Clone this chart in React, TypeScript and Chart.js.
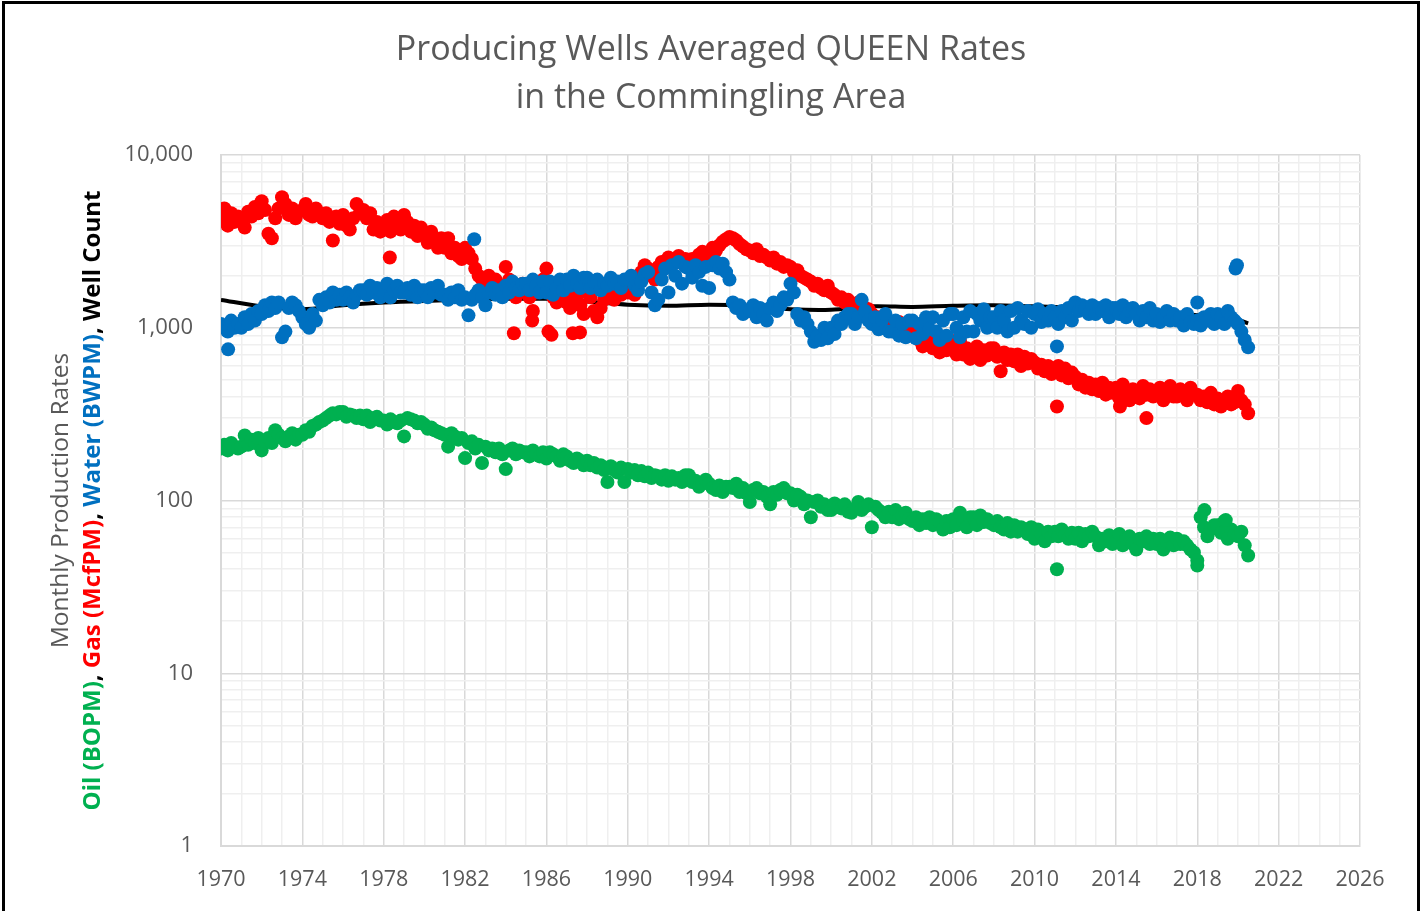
import React, { useEffect, useRef } from "react";
import { Chart, registerables } from "chart.js";

Chart.register(...registerables);

// ---------------- DATA ----------------
const TITLE_LINES = ["Producing Wells Averaged QUEEN Rates", "in the Commingling Area"];
const Y_TITLE_LINE1 = "Monthly Production Rates";
const Y_TITLE_SEGMENTS: [string, string][] = [
  ["Oil (BOPM)", "#00B050"],
  [", ", "#000000"],
  ["Gas (McfPM)", "#FF0000"],
  [", ", "#000000"],
  ["Water (BWPM)", "#0070C0"],
  [", ", "#000000"],
  ["Well Count", "#000000"],
];

// bi-monthly samples starting 1970.00, six per year
const START_YEAR = 1970;
const STEP_YEARS = 1 / 6;

const oilBOPM = [
  200, 210, 195, 215, 205, 200, // 1970
  205, 238, 210, 225, 215, 230, // 1971
  195, 220, 230, 215, 255, 240, // 1972
  230, 220, 235, 245, 225, 240, // 1973
  240, 255, 250, 270, 275, 285, // 1974
  290, 300, 310, 320, 315, 325, // 1975
  325, 305, 315, 310, 300, 310, // 1976
  295, 310, 285, 300, 305, 290, // 1977
  290, 275, 295, 285, 280, 290, // 1978
  235, 300, 295, 290, 280, 285, // 1979
  275, 260, 265, 255, 250, 245, // 1980
  240, 205, 245, 235, 225, 230, // 1981
  176, 215, 220, 200, 210, 165, // 1982
  205, 195, 200, 190, 200, 185, // 1983
  152, 195, 200, 185, 195, 190, // 1984
  190, 180, 195, 185, 180, 190, // 1985
  175, 190, 185, 180, 170, 185, // 1986
  180, 170, 165, 175, 170, 160, // 1987
  170, 160, 165, 155, 160, 150, // 1988
  128, 158, 150, 145, 155, 128, // 1989
  152, 145, 150, 140, 148, 138, // 1990
  145, 135, 140, 138, 132, 140, // 1991
  130, 138, 132, 135, 128, 140, // 1992
  140, 128, 130, 120, 125, 132, // 1993
  125, 118, 115, 122, 112, 120, // 1994
  120, 118, 125, 112, 118, 110, // 1995
  98, 115, 118, 110, 112, 105, // 1996
  95, 112, 108, 115, 118, 110, // 1997
  110, 100, 108, 105, 95, 100, // 1998
  80, 98, 100, 92, 95, 88, // 1999
  88, 96, 92, 90, 95, 86, // 2000
  85, 90, 98, 88, 92, 95, // 2001
  70, 92, 88, 85, 80, 86, // 2002
  80, 88, 78, 82, 85, 78, // 2003
  76, 80, 72, 78, 74, 80, // 2004
  72, 78, 75, 68, 76, 70, // 2005
  78, 72, 85, 76, 70, 80, // 2006
  80, 72, 82, 75, 78, 74, // 2007
  72, 76, 70, 68, 74, 66, // 2008
  72, 66, 70, 68, 64, 70, // 2009
  60, 68, 64, 58, 66, 62, // 2010
  66, 62, 68, 63, 60, 65, // 2011
  60, 65, 58, 64, 62, 66, // 2012
  62, 55, 60, 58, 63, 56, // 2013
  58, 64, 55, 60, 62, 56, // 2014
  52, 60, 58, 62, 56, 60, // 2015
  56, 60, 52, 58, 61, 55, // 2016
  60, 56, 58, 55, 52, 50, // 2017
  45, 80, 70, 62, 68, 72, // 2018
  72, 65, 76, 60, 68, 64, // 2019
  62, 66, 55, 48, // 2020
];

const gasMcfPM = [
  4300, 4900, 3900, 4600, 4100, 4400, // 1970
  4200, 3800, 4700, 4400, 5000, 4600, // 1971
  5400, 4800, 3500, 3300, 4300, 4900, // 1972
  5700, 5200, 4500, 4900, 4300, 4700, // 1973
  4800, 5200, 4500, 4400, 4900, 4600, // 1974
  4300, 4600, 4100, 3200, 4400, 4000, // 1975
  4500, 3900, 3700, 4300, 5200, 4600, // 1976
  4800, 4300, 4600, 3700, 4100, 3600, // 1977
  3800, 4200, 3600, 4400, 4000, 3700, // 1978
  4500, 4100, 3600, 3900, 3400, 3800, // 1979
  3500, 3100, 3600, 3200, 2900, 3300, // 1980
  2900, 3300, 2700, 2900, 2600, 2500, // 1981
  2900, 2700, 2500, 2200, 2000, 1900, // 1982
  1800, 2000, 1700, 1900, 1650, 1750, // 1983
  2250, 1900, 1700, 1500, 1600, 1800, // 1984
  1700, 1500, 1250, 1600, 1800, 1900, // 1985
  2200, 1800, 1500, 1400, 1700, 1500, // 1986
  1400, 1300, 1600, 1500, 1350, 1200, // 1987
  1600, 1500, 1250, 1150, 1300, 1450, // 1988
  1500, 1600, 1450, 1650, 1550, 1700, // 1989
  1600, 1700, 1550, 1800, 2100, 2300, // 1990
  2200, 2000, 1900, 2250, 2400, 2300, // 1991
  2550, 2300, 2450, 2600, 2400, 2500, // 1992
  2400, 2500, 2350, 2650, 2750, 2600, // 1993
  2700, 2900, 2800, 3000, 3150, 3250, // 1994
  3350, 3300, 3200, 3050, 2950, 2850, // 1995
  2800, 2700, 2850, 2600, 2650, 2550, // 1996
  2450, 2550, 2350, 2400, 2250, 2300, // 1997
  2250, 2100, 2150, 2000, 1950, 1900, // 1998
  1850, 1750, 1800, 1700, 1650, 1750, // 1999
  1600, 1550, 1450, 1500, 1400, 1450, // 2000
  1350, 1300, 1400, 1250, 1300, 1280, // 2001
  1200, 1100, 1150, 1050, 1100, 1000, // 2002
  1050, 980, 1080, 950, 1000, 920, // 2003
  900, 950, 850, 780, 880, 820, // 2004
  760, 860, 720, 800, 740, 850, // 2005
  780, 700, 840, 700, 760, 660, // 2006
  700, 780, 650, 740, 690, 760, // 2007
  760, 680, 560, 720, 650, 700, // 2008
  640, 700, 600, 680, 620, 660, // 2009
  630, 580, 610, 560, 600, 540, // 2010
  560, 600, 530, 580, 510, 550, // 2011
  520, 470, 500, 450, 480, 440, // 2012
  470, 430, 480, 410, 450, 420, // 2013
  450, 390, 470, 420, 380, 440, // 2014
  430, 390, 460, 410, 440, 400, // 2015
  410, 450, 380, 430, 460, 400, // 2016
  400, 440, 420, 380, 450, 410, // 2017
  410, 380, 400, 370, 420, 360, // 2018
  390, 350, 380, 400, 360, 370, // 2019
  430, 380, 360, 320, // 2020
];

const waterBWPM = [
  1050, 1000, 950, 1100, 1000, 1050, // 1970
  1000, 1150, 1050, 1200, 1100, 1250, // 1971
  1200, 1350, 1250, 1400, 1300, 1400, // 1972
  880, 950, 1300, 1400, 1350, 1250, // 1973
  1150, 1050, 1000, 1200, 1100, 1450, // 1974
  1350, 1500, 1400, 1600, 1450, 1550, // 1975
  1450, 1600, 1500, 1400, 1550, 1650, // 1976
  1650, 1550, 1750, 1600, 1700, 1500, // 1977
  1550, 1800, 1500, 1650, 1750, 1600, // 1978
  1600, 1700, 1550, 1750, 1500, 1650, // 1979
  1650, 1500, 1700, 1600, 1750, 1550, // 1980
  1550, 1450, 1600, 1500, 1650, 1450, // 1981
  1500, 1180, 1450, 1550, 1650, 1500, // 1982
  1350, 1600, 1700, 1550, 1650, 1500, // 1983
  1750, 1600, 1850, 1700, 1650, 1800, // 1984
  1800, 1650, 1900, 1750, 1600, 1850, // 1985
  1600, 1850, 1550, 1700, 1900, 1650, // 1986
  1900, 1750, 2000, 1800, 1700, 1950, // 1987
  1950, 1700, 1850, 1900, 1650, 1800, // 1988
  1750, 1950, 1800, 1850, 1700, 1900, // 1989
  1900, 2000, 1750, 1650, 1850, 2050, // 1990
  2100, 1600, 1350, 1450, 1900, 2200, // 1991
  1600, 2300, 2000, 2400, 1800, 2250, // 1992
  2200, 1950, 2300, 2100, 1750, 2250, // 1993
  1700, 2300, 2400, 2200, 2350, 2100, // 1994
  1900, 1400, 1300, 1350, 1200, 1250, // 1995
  1250, 1350, 1150, 1300, 1200, 1100, // 1996
  1300, 1400, 1250, 1350, 1500, 1450, // 1997
  1800, 1600, 1200, 1100, 1150, 1050, // 1998
  950, 830, 900, 850, 1000, 870, // 1999
  1000, 920, 1100, 1050, 1150, 1200, // 2000
  1200, 1050, 1150, 1450, 1250, 1100, // 2001
  1050, 1150, 980, 1100, 1200, 950, // 2002
  950, 1100, 900, 1050, 880, 1100, // 2003
  1100, 870, 1050, 920, 1150, 980, // 2004
  1150, 950, 850, 1100, 900, 1200, // 2005
  1200, 1000, 880, 1150, 950, 1250, // 2006
  950, 1200, 1100, 1280, 1000, 1150, // 2007
  1150, 1000, 1250, 1100, 950, 1250, // 2008
  1000, 1300, 1100, 1050, 1250, 1000, // 2009
  1200, 1280, 1080, 1200, 1100, 1250, // 2010
  1150, 1050, 1250, 1150, 1300, 1100, // 2011
  1400, 1250, 1350, 1300, 1200, 1350, // 2012
  1200, 1300, 1250, 1350, 1150, 1300, // 2013
  1300, 1200, 1350, 1150, 1250, 1300, // 2014
  1200, 1100, 1250, 1150, 1300, 1100, // 2015
  1200, 1080, 1150, 1250, 1100, 1200, // 2016
  1100, 1150, 1030, 1200, 1080, 1050, // 2017
  1100, 1030, 1150, 1100, 1200, 1050, // 2018
  1200, 1150, 1050, 1250, 1150, 1100, // 2019
  1050, 950, 850, 770, // 2020
];

// isolated points [year, value]
const oilOutliers: [number, number][] = [
  [2011.1, 40], [2018.0, 42], [2018.35, 88], [2019.4, 77],
];
const gasOutliers: [number, number][] = [
  [1978.3, 2550], [1984.4, 930], [1985.3, 1100], [1986.1, 950], [1986.25, 910],
  [1987.3, 930], [1987.65, 940], [2011.1, 350], [2014.2, 350], [2015.5, 300],
];
const waterOutliers: [number, number][] = [
  [1970.35, 750], [1982.45, 3250], [2011.1, 780], [2018.0, 1400], [2019.88, 2200], [2019.95, 2300],
];

const wellCountYears = [1970, 1972, 1974, 1976, 1978, 1980, 1982, 1984, 1986, 1988, 1990, 1992, 1994, 1996, 1998, 2000, 2002, 2004, 2006, 2008, 2010, 2012, 2014, 2016, 2018, 2019, 2020, 2020.5];
const wellCount = [1450, 1330, 1280, 1350, 1400, 1430, 1450, 1470, 1470, 1420, 1360, 1340, 1360, 1340, 1280, 1270, 1330, 1320, 1340, 1350, 1330, 1310, 1280, 1240, 1180, 1140, 1110, 1060];

const X_MIN = 1970;
const X_MAX = 2026;
const X_LABEL_EVERY = 4;
const Y_DECADES = [1, 10, 100, 1000, 10000];
const Y_MULTIPLIERS = [1, 2, 3, 4, 5, 6, 7, 8, 9];

// ---------------- STYLE ----------------
const GREEN = "#00B050";
const RED = "#FF0000";
const BLUE = "#0070C0";
const TEXT_GRAY = "#595959";
const GRID_MAJOR = "#D9D9D9";
const GRID_MINOR = "#EFEFEF";
const FONT = '"Open Sans", "DejaVu Sans", sans-serif';

const toPoints = (vals: number[]) => vals.map((v, i) => ({ x: START_YEAR + i * STEP_YEARS, y: v }));
const pairsToPoints = (pairs: [number, number][]) => pairs.map(([x, y]) => ({ x, y }));
const isPow10 = (v: number) => Math.abs(Math.log10(v) - Math.round(Math.log10(v))) < 1e-9;

const xGridValues: number[] = [];
for (let y = X_MIN; y <= X_MAX; y++) xGridValues.push(y);
const yGridValues: number[] = [];
Y_DECADES.forEach((d) => {
  if (d === 10000) yGridValues.push(d);
  else Y_MULTIPLIERS.forEach((m) => yGridValues.push(d * m));
});

const textPlugin = {
  id: "customTexts",
  afterDraw(chart: any) {
    const ctx: CanvasRenderingContext2D = chart.ctx;
    const area = chart.chartArea;
    const midY = (area.top + area.bottom) / 2;
    ctx.save();
    ctx.fillStyle = TEXT_GRAY;
    ctx.textAlign = "center";
    ctx.textBaseline = "middle";
    ctx.font = `34px ${FONT}`;
    ctx.fillText(TITLE_LINES[0], 711, 50);
    ctx.fillText(TITLE_LINES[1], 711, 98);
    ctx.restore();

    ctx.save();
    ctx.translate(61, midY);
    ctx.rotate(-Math.PI / 2);
    ctx.fillStyle = TEXT_GRAY;
    ctx.textAlign = "center";
    ctx.textBaseline = "middle";
    ctx.font = `24.5px ${FONT}`;
    ctx.fillText(Y_TITLE_LINE1, 0, 0);
    ctx.restore();

    ctx.save();
    ctx.translate(93, midY);
    ctx.rotate(-Math.PI / 2);
    ctx.textAlign = "left";
    ctx.textBaseline = "middle";
    ctx.font = `bold 24px ${FONT}`;
    const total = Y_TITLE_SEGMENTS.reduce((s, [t]) => s + ctx.measureText(t).width, 0);
    let x = -total / 2;
    Y_TITLE_SEGMENTS.forEach(([t, c]) => {
      ctx.fillStyle = c;
      ctx.fillText(t, x, 0);
      x += ctx.measureText(t).width;
    });
    ctx.restore();
  },
};

export default function App() {
  const ref = useRef<HTMLCanvasElement>(null);
  useEffect(() => {
    const canvas = ref.current!;
    const pointStyle = { pointRadius: 7, pointHoverRadius: 7, pointBorderWidth: 0, showLine: false };
    const chart = new Chart(canvas, {
      type: "scatter",
      data: {
        datasets: [
          {
            label: "Water",
            data: toPoints(waterBWPM).concat(pairsToPoints(waterOutliers)),
            backgroundColor: BLUE,
            borderColor: BLUE,
            order: 0,
            ...pointStyle,
          },
          {
            label: "Gas",
            data: toPoints(gasMcfPM).concat(pairsToPoints(gasOutliers)),
            backgroundColor: RED,
            borderColor: RED,
            order: 1,
            ...pointStyle,
          },
          {
            label: "Oil",
            data: toPoints(oilBOPM).concat(pairsToPoints(oilOutliers)),
            backgroundColor: GREEN,
            borderColor: GREEN,
            order: 2,
            ...pointStyle,
          },
          {
            label: "Well Count",
            data: wellCountYears.map((x, i) => ({ x, y: wellCount[i] })),
            borderColor: "#000000",
            backgroundColor: "#000000",
            borderWidth: 4,
            showLine: true,
            pointRadius: 0,
            tension: 0.3,
            order: 3,
          } as any,
        ],
      },
      options: {
        responsive: false,
        animation: false,
        devicePixelRatio: 1,
        layout: { padding: { left: 0, top: 155, right: 64, bottom: 0 } },
        plugins: { legend: { display: false }, tooltip: { enabled: false }, title: { display: false } },
        scales: {
          x: {
            type: "linear",
            min: X_MIN,
            max: X_MAX,
            afterBuildTicks: (s: any) => {
              s.ticks = xGridValues.map((v) => ({ value: v }));
            },
            afterFit: (s: any) => {
              s.height = 65;
            },
            grid: {
              color: (c: any) => (c.tick && (c.tick.value - X_MIN) % X_LABEL_EVERY === 0 ? GRID_MAJOR : GRID_MINOR),
              lineWidth: 1.5,
              drawTicks: false,
            },
            border: { display: true, color: GRID_MAJOR, width: 2 },
            ticks: {
              autoSkip: false,
              maxRotation: 0,
              padding: 21,
              color: TEXT_GRAY,
              font: { family: FONT, size: 21.5 },
              callback: (v: any) => ((Number(v) - X_MIN) % X_LABEL_EVERY === 0 ? String(v) : ""),
            },
          },
          y: {
            type: "logarithmic",
            min: 1,
            max: 10000,
            afterBuildTicks: (s: any) => {
              s.ticks = yGridValues.map((v) => ({ value: v, major: isPow10(v) }));
            },
            afterFit: (s: any) => {
              s.width = 221;
            },
            grid: {
              color: (c: any) => (c.tick && isPow10(c.tick.value) ? GRID_MAJOR : GRID_MINOR),
              lineWidth: 1.5,
              drawTicks: false,
            },
            border: { display: true, color: GRID_MAJOR, width: 2 },
            ticks: {
              autoSkip: false,
              padding: 28,
              color: TEXT_GRAY,
              font: { family: FONT, size: 22 },
              callback: (v: any) => (isPow10(Number(v)) ? Number(v).toLocaleString("en-US") : ""),
            },
          },
        },
      },
      plugins: [textPlugin],
    } as any);
    return () => chart.destroy();
  }, []);

  return (
    <div style={{ position: "fixed", left: 0, top: 0, width: 1424, height: 911, background: "#ffffff", overflow: "hidden" }}>
      <canvas ref={ref} width={1424} height={911} style={{ position: "absolute", left: 0, top: 0, width: 1424, height: 911 }} />
      <div
        style={{
          position: "absolute",
          left: 2,
          top: 1,
          width: 1418,
          height: 940,
          border: "3px solid #000000",
          boxSizing: "border-box",
          pointerEvents: "none",
        }}
      />
    </div>
  );
}
